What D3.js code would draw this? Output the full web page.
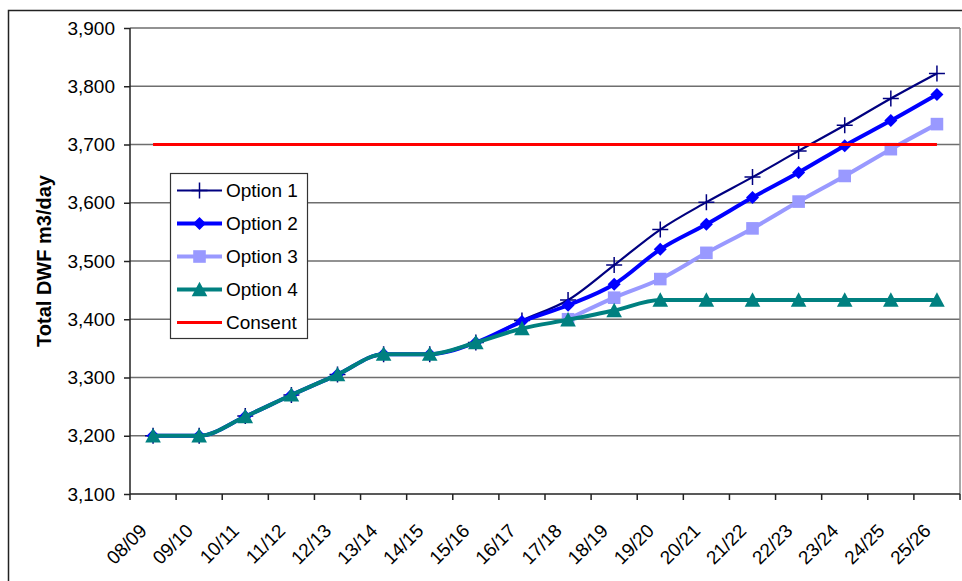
<html>
<head>
<meta charset="utf-8">
<style>
body { margin: 0; background: #fff; }
svg { font-family: "Liberation Sans", Arial, sans-serif; }
.grid line { stroke: #6e6e6e; stroke-width: 1.5; }
.axis text { font-size: 19px; fill: #000; }
.axis path, .axis line { stroke: #222; stroke-width: 1.5; }
.title { font-size: 20px; font-weight: bold; }
.legend text { font-size: 19px; }
</style>
</head>
<body>
<svg width="962" height="581"></svg>
<script src="https://cdn.jsdelivr.net/npm/d3@7"></script>
<script>

// data (null = no value that year)
var years = ["08/09","09/10","10/11","11/12","12/13","13/14","14/15","15/16","16/17",
             "17/18","18/19","19/20","20/21","21/22","22/23","23/24","24/25","25/26"];
var option1 = [3200,3200,3234,3270,3305,3340,3340,3360,3398,3433,3493,3554,3601,3644,3689,3733,3779,3822];
var option2 = [3200,3200,3233,3270,3305,3340,3340,3360,3396,3424,3460,3520,3563,3609,3652,3698,3741,3786];
var option3 = [null,null,null,null,null,null,null,null,null,3400,3437,3469,3514,3556,3602,3646,3692,3735];
var option4 = [3200,3200,3233,3270,3305,3340,3340,3360,3384,3399,3415,3433,3433,3433,3433,3433,3433,3433];
var consent = [3700,3700,3700,3700,3700,3700,3700,3700,3700,3700,3700,3700,3700,3700,3700,3700,3700,3700];
var yTicks = [3100,3200,3300,3400,3500,3600,3700,3800,3900];

var svg = d3.select("svg");
var plot = {left: 130, right: 960, top: 28, bottom: 494};

// outer chart frame (runs off the page on right and bottom)
svg.append("rect")
  .attr("x", 8.5).attr("y", 10.5)
  .attr("width", 980).attr("height", 600)
  .attr("fill", "#fff").attr("stroke", "#222").attr("stroke-width", 1.5);

var x = d3.scaleBand().domain(years).range([plot.left, plot.right]);
var y = d3.scaleLinear().domain([3100, 3900]).range([plot.bottom, plot.top]);
var cx = function(i) { return x(years[i]) + x.bandwidth() / 2; };

// gridlines
svg.append("g").attr("class", "grid")
  .selectAll("line").data(yTicks.slice(1)).enter().append("line")
  .attr("x1", plot.left).attr("x2", plot.right)
  .attr("y1", function(d) { return y(d); }).attr("y2", function(d) { return y(d); });

// plot area right border
svg.append("line")
  .attr("x1", plot.right).attr("x2", plot.right).attr("y1", plot.top).attr("y2", plot.bottom)
  .attr("stroke", "#888").attr("stroke-width", 1.5);

// y axis
var gy = svg.append("g").attr("class", "axis")
  .attr("transform", "translate(" + plot.left + ",0)")
  .call(d3.axisLeft(y).tickValues(yTicks).tickSize(6).tickPadding(9).tickFormat(d3.format(",")));
gy.select(".domain").attr("d", "M0," + plot.top + "V" + plot.bottom);
gy.attr("font-size", null).attr("font-family", null);

// x axis: ticks on band boundaries
var gx = svg.append("g").attr("class", "axis")
  .attr("transform", "translate(0," + plot.bottom + ")");
gx.append("line").attr("x1", plot.left).attr("x2", plot.right).attr("y1", 0).attr("y2", 0);
gx.selectAll(".tk").data(d3.range(years.length + 1)).enter().append("line")
  .attr("class", "tk")
  .attr("x1", function(i) { return plot.left + i * x.bandwidth(); })
  .attr("x2", function(i) { return plot.left + i * x.bandwidth(); })
  .attr("y1", 0).attr("y2", 6);
gx.selectAll("text").data(years).enter().append("text")
  .attr("text-anchor", "end")
  .attr("transform", function(d, i) { return "translate(" + (cx(i) - 5) + ",38) rotate(-45)"; })
  .text(function(d) { return d; });

// axis title
svg.append("text").attr("class", "title")
  .attr("text-anchor", "middle")
  .attr("transform", "translate(51," + ((plot.top + plot.bottom) / 2) + ") rotate(-90)")
  .text("Total DWF m3/day");

// marker shapes
var markers = {
  plus: function(s) { return "M" + (-s) + ",0H" + s + "M0," + (-s) + "V" + s; },
  diamond: function(s) { return "M0," + (-s) + "L" + s + ",0L0," + s + "L" + (-s) + ",0Z"; },
  square: function(s) { return "M" + (-s) + "," + (-s) + "H" + s + "V" + s + "H" + (-s) + "Z"; },
  triangle: function(s) { return "M0," + (-s) + "L" + s + "," + (s * 0.85) + "L" + (-s) + "," + (s * 0.85) + "Z"; }
};

var series = [
  {name: "Option 1", values: option1, color: "#000080", width: 2.2, marker: "plus", size: 8},
  {name: "Option 2", values: option2, color: "#0000ff", width: 4, marker: "diamond", size: 6.5},
  {name: "Option 3", values: option3, color: "#9999ff", width: 4, marker: "square", size: 6.3},
  {name: "Option 4", values: option4, color: "#008080", width: 4, marker: "triangle", size: 7.8},
  {name: "Consent", values: consent, color: "#ff0000", width: 3, marker: null}
];

var line = d3.line()
  .defined(function(d) { return d != null; })
  .x(function(d, i) { return cx(i); })
  .y(function(d) { return y(d); })
  .curve(d3.curveMonotoneX);

function drawMarker(g, s, px, py) {
  var p = g.append("path")
    .attr("d", markers[s.marker](s.size))
    .attr("transform", "translate(" + px + "," + py + ")");
  if (s.marker == "plus") p.attr("fill", "none").attr("stroke", s.color).attr("stroke-width", 1.5);
  else p.attr("fill", s.color);
}

series.forEach(function(s) {
  var g = svg.append("g");
  g.append("path").datum(s.values)
    .attr("d", line)
    .attr("fill", "none").attr("stroke", s.color).attr("stroke-width", s.width);
  if (s.marker) s.values.forEach(function(v, i) {
    if (v != null) drawMarker(g, s, cx(i), y(v));
  });
});

// legend
var lg = svg.append("g").attr("class", "legend");
lg.append("rect").attr("x", 170.5).attr("y", 173.5).attr("width", 137).attr("height", 165)
  .attr("fill", "#fff").attr("stroke", "#333").attr("stroke-width", 1.2);
series.forEach(function(s, i) {
  var ly = 190.5 + i * 33;
  lg.append("line").attr("x1", 177).attr("x2", 222).attr("y1", ly).attr("y2", ly)
    .attr("stroke", s.color).attr("stroke-width", s.width);
  if (s.marker) drawMarker(lg, s, 199.5, ly);
  lg.append("text").attr("x", 226).attr("y", ly).attr("dy", "0.36em").text(s.name);
});

</script>
</body>
</html>
